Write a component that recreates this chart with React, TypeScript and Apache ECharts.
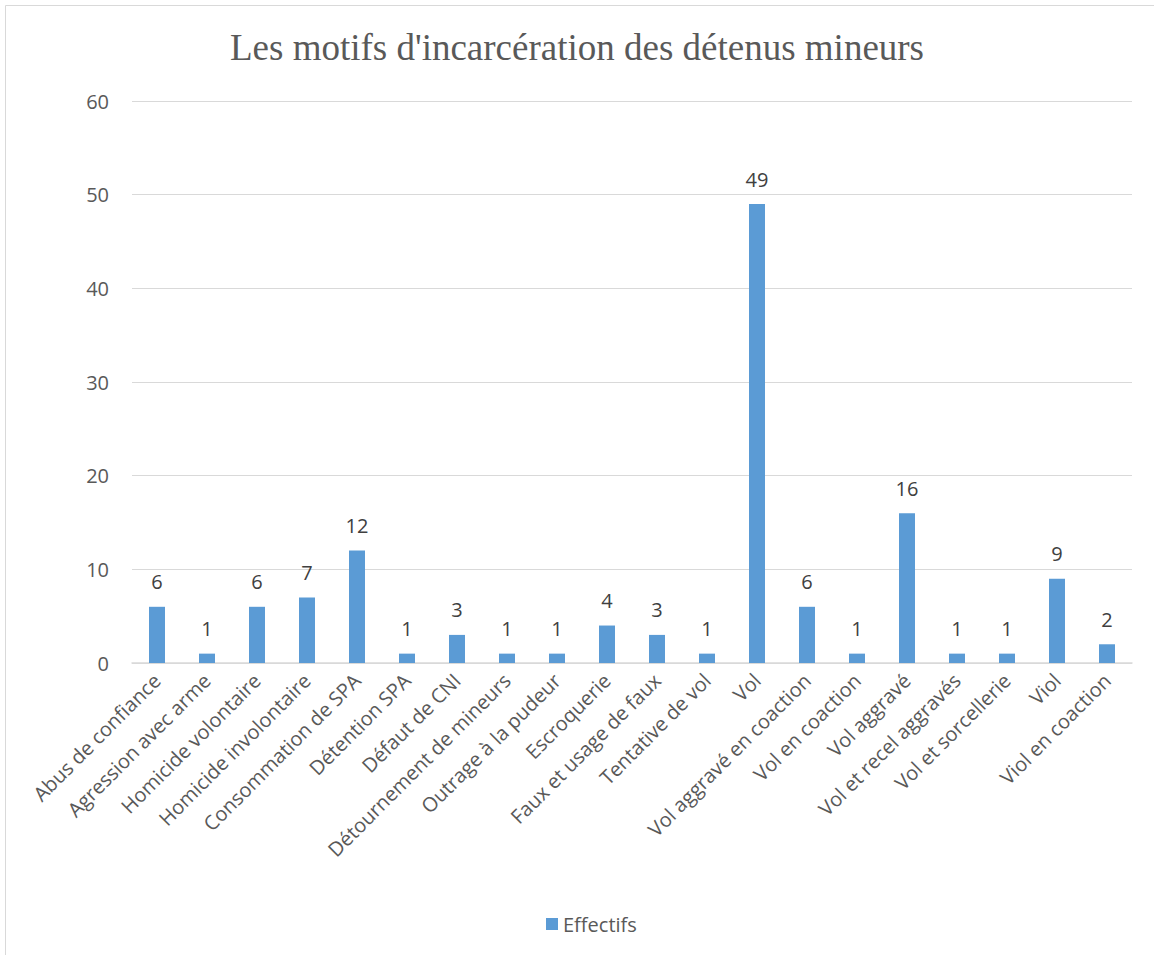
import React, { useEffect, useRef } from "react";
import * as echarts from "echarts";

const categories = [
  "Abus de confiance",
  "Agression avec arme",
  "Homicide volontaire",
  "Homicide involontaire",
  "Consommation de SPA",
  "Détention SPA",
  "Défaut de CNI",
  "Détournement de mineurs",
  "Outrage à la pudeur",
  "Escroquerie",
  "Faux et usage de faux",
  "Tentative de vol",
  "Vol",
  "Vol aggravé en coaction",
  "Vol en coaction",
  "Vol aggravé",
  "Vol et recel aggravés",
  "Vol et sorcellerie",
  "Viol",
  "Viol en coaction",
];
const effectifs = [6, 1, 6, 7, 12, 1, 3, 1, 1, 4, 3, 1, 49, 6, 1, 16, 1, 1, 9, 2];
const seriesName = "Effectifs";
const title = "Les motifs d'incarcération des détenus mineurs";

export default function App() {
  const ref = useRef<HTMLDivElement>(null);
  useEffect(() => {
    if (!ref.current) return;
    const chart = echarts.init(ref.current, null, { renderer: "svg" });
    const sans = "'Open Sans', 'Noto Sans', sans-serif";
    chart.setOption({
      animation: false,
      backgroundColor: "#ffffff",
      title: {
        text: title,
        left: "center",
        top: 24,
        textStyle: {
          fontFamily: "'Liberation Serif', 'DejaVu Serif', serif",
          fontSize: 37,
          fontWeight: "normal",
          color: "#595959",
        },
      },
      graphic: [
        {
          type: "rect",
          shape: { x: 5.5, y: 5.5, width: 1160, height: 960 },
          style: { fill: "none", stroke: "#d9d9d9", lineWidth: 1 },
          silent: true,
        },
      ],
      legend: {
        left: 541,
        top: 909,
        icon: "rect",
        itemWidth: 12,
        itemHeight: 12,
        itemGap: 10,
        textStyle: { fontFamily: sans, fontSize: 20, color: "#595959" },
        data: [seriesName],
      },
      grid: { left: 132, right: 22, top: 101, bottom: 292, containLabel: false },
      xAxis: {
        type: "category",
        data: categories,
        axisLine: { lineStyle: { color: "#d9d9d9", width: 1.5 } },
        axisTick: { show: false },
        axisLabel: {
          rotate: 45,
          interval: 0,
          margin: 14,
          fontFamily: sans,
          fontSize: 20,
          color: "#595959",
        },
      },
      yAxis: {
        type: "value",
        min: 0,
        max: 60,
        interval: 10,
        axisLine: { show: false },
        axisTick: { show: false },
        splitLine: { lineStyle: { color: "#d9d9d9", width: 1 } },
        axisLabel: {
          margin: 23,
          fontFamily: sans,
          fontSize: 20,
          color: "#595959",
        },
      },
      series: [
        {
          name: seriesName,
          type: "bar",
          data: effectifs,
          barWidth: 16,
          itemStyle: { color: "#5b9bd5" },
          label: {
            show: true,
            position: "top",
            distance: 15,
            fontFamily: sans,
            fontSize: 20,
            color: "#404040",
          },
        },
      ],
    });
    return () => chart.dispose();
  }, []);
  return (
    <div
      ref={ref}
      style={{ position: "absolute", left: 0, top: 0, width: 1154, height: 955 }}
    />
  );
}
